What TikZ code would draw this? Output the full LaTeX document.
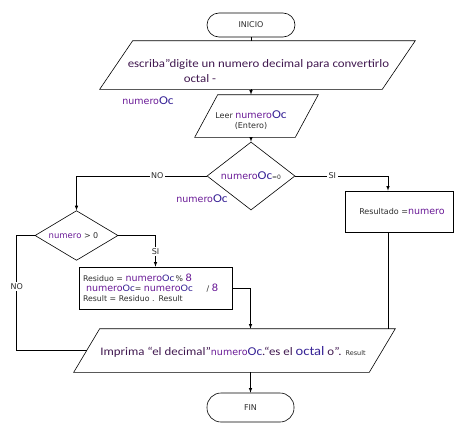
\documentclass[tikz,border=0pt]{standalone}
\usepackage{fontspec}
\setmainfont{DejaVu Sans}
\newfontfamily\calfont{Carlito}[FakeStretch=1.12]
\usetikzlibrary{positioning,calc,arrows,shapes.geometric}
\definecolor{numcol}{RGB}{105,25,150}
\definecolor{occol}{RGB}{55,35,150}
\definecolor{txtcol}{RGB}{65,25,80}
\definecolor{lblcol}{RGB}{45,45,45}
\newcommand\numtxt{{\rmfamily\fontsize{9.5}{10}\selectfont\color{numcol}numero}}
\newcommand\octxt{{\calfont\fontsize{12}{12}\selectfont\color{occol}Oc}}
\newcommand\paral[2]{\draw ([xshift=#2]#1.north west) -- (#1.north east) -- ([xshift=-#2]#1.south east) -- (#1.south west) -- cycle;}

\begin{document}
\begin{tikzpicture}[x=1pt,y=-1pt,>=latex,line width=0.6pt,
    every node/.style={text=lblcol,font=\fontsize{8}{9}\selectfont},
    terminal/.style={draw,rounded corners=12pt,minimum width=88pt,minimum height=24pt,inner sep=0pt},
    para/.style={minimum width=#1,inner sep=0pt},
    box/.style={draw,inner sep=0pt},
    cond/.style={draw,diamond,inner sep=0pt},
    lbl/.style={fill=white,inner sep=1.5pt}]
  \useasboundingbox (0,0) rectangle (458,431);

  \node[terminal] (inicio) at (251,25) {INICIO};
  \node[para=315pt,minimum height=48pt] (escr) at (257.5,65) {};
  \node[para=123pt,minimum height=42pt] (leer) at (256.5,116) {};
  \node[cond,minimum width=88pt,minimum height=43pt] (cond1) at (251,176) {\numtxt\octxt{\fontsize{6}{7}\selectfont =0}};
  \node[cond,minimum width=83pt,minimum height=47pt] (cond2) at (76.5,235.5) {\hspace*{-6pt}{\fontsize{8.5}{9}\selectfont\color{numcol}numero} > 0};
  \node[box,minimum width=108pt,minimum height=41pt] (res) at (399,211.5) {\hspace*{6pt}Resultado =\numtxt};
  \node[box,minimum height=42pt,text width=145pt,inner xsep=4pt,align=left,font=\fontsize{7.8}{10}\selectfont] (calc) at (155.5,288)
    {Residuo = \numtxt{\calfont\fontsize{10}{10}\selectfont\color{occol}Oc}\,\% {\calfont\fontsize{11}{8}\selectfont\color{numcol}8}\\
     \hspace*{3pt}\numtxt{\calfont\fontsize{10}{10}\selectfont\color{occol}Oc}= \numtxt{\calfont\fontsize{10}{10}\selectfont\color{occol}Oc}\hspace{14pt}/ {\calfont\fontsize{11}{8}\selectfont\color{numcol}8}\\
     Result = Residuo . Result};
  \node[para=321pt,minimum height=43pt] (imp) at (234.5,350.5) {};
  \node[terminal,minimum width=87pt,minimum height=29pt,rounded corners=14pt] (fin) at (250.5,407.5) {FIN};

  % texts of the parallelograms
  \node[align=left,font=\calfont\fontsize{11.5}{15}\selectfont,text=txtcol] (escrtxt) at (258.5,70.5)
    {escriba”digite un numero decimal para convertirlo\\\hspace*{56pt}octal -};
  \node[align=center] (leertxt) at (251,120.5) {Leer \numtxt\octxt\\[1pt](Entero)};
  \node[font=\calfont\fontsize{11.5}{12}\selectfont,text=txtcol] (imptxt) at (233,352)
    {Imprima “el decimal”\numtxt\octxt.“es el {\color{occol}\fontsize{13}{12}\selectfont octal} o”. {\rmfamily\fontsize{6.5}{7}\selectfont\color{lblcol}Result}};
  \node (lbla) at (148,101) {\numtxt\octxt};
  \node (lblb) at (202,199) {\numtxt\octxt};

  \paral{escr}{33pt}
  \paral{leer}{23pt}
  \paral{imp}{26pt}

  \draw (inicio.south) -- (inicio |- escr.north);
  \draw[->] (escr.south -| inicio) -- (leer.north -| inicio);
  \draw[->] (leer.south -| cond1) -- (cond1.north);
  \draw[->] (cond1.west) -- node[lbl,pos=.38]{NO} (cond1.west -| cond2) -- (cond2.north);
  \draw[->] (cond1.east) -- node[lbl,pos=.4]{SI} ([xshift=-11pt]cond1.east -| res) -- ([xshift=-11pt]res.north);
  \draw[->] (cond2.east) -| node[lbl,pos=.75]{SI} (calc.north);
  \draw (cond2.west) -- ++(-18,0) |- node[lbl,pos=.22]{NO} ([xshift=13pt]imp.west);
  \draw[->] (calc.east) -| (fin.north |- imp.north);
  \draw ([xshift=-11pt]res.south) -- ([xshift=-11pt]res.south |- imp.north);
  \draw[->] (imp.south -| fin) -- (fin.north);
\end{tikzpicture}
\end{document}
